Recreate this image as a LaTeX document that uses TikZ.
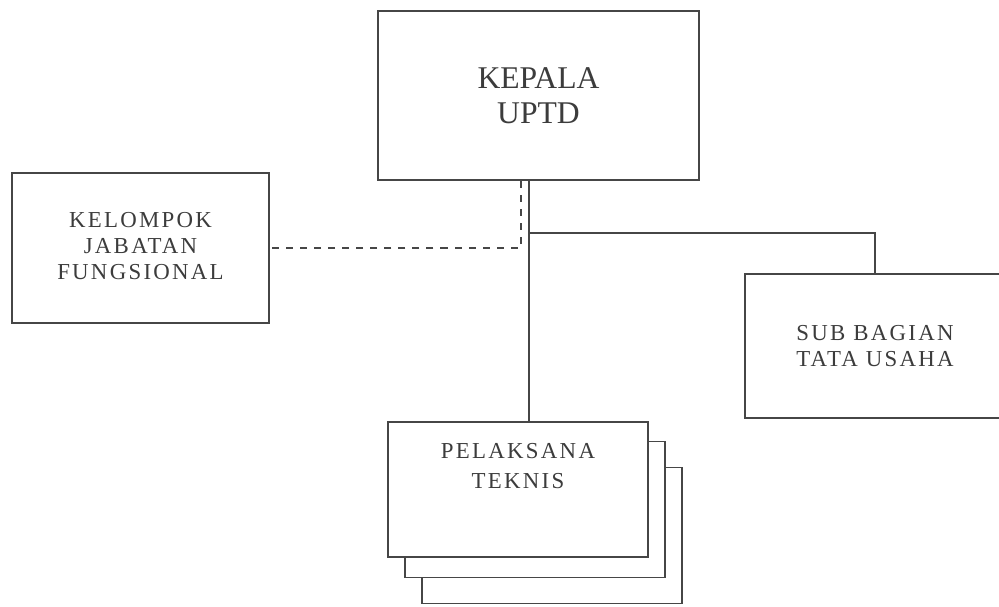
\documentclass[tikz,border=0pt]{standalone}
\usepackage{fontspec}
\setmainfont{Liberation Serif}
\newfontfamily\orgfont[LetterSpace=10]{Liberation Serif}
\usetikzlibrary{positioning, calc}
\definecolor{orgline}{RGB}{70,70,70}
\definecolor{orgtext}{RGB}{60,60,60}

\tikzset{
  unitbox/.style={draw=orgline, line width=1.1pt, fill=white, align=center, inner sep=0pt, text=orgtext},
  link/.style={draw=orgline, line width=1.1pt},
  dotlink/.style={link, dash pattern=on 4pt off 4pt}
}

\begin{document}
\begin{tikzpicture}[x=0.02cm, y=-0.02cm]
\useasboundingbox (0,0) rectangle (999,606);

% Boxes
\node[unitbox, minimum width=6.42cm, minimum height=3.38cm, font=\fontsize{18}{20}\selectfont] (kepala) at (538.5,95.5) {KEPALA\\UPTD};
\node[unitbox, minimum width=5.14cm, minimum height=3cm, font=\orgfont\fontsize{13}{16}\selectfont] (kelompok) at (140.5,248) {\raisebox{0.2cm}{\begin{tabular}{@{}c@{}}KELOMPOK\\[-1pt]JABATAN\\[-1pt]FUNGSIONAL\end{tabular}}};
\node[unitbox, minimum width=5.2cm, minimum height=2.88cm, font=\orgfont\fontsize{13}{15.3}\selectfont] (subbag) at (875,346) {SUB BAGIAN\\TATA USAHA};

% Pelaksana stack
\foreach \dx/\dy [count=\k] in {34/46, 17/20}
  \node[unitbox, minimum width=5.2cm, minimum height=2.72cm] (pel\k) at ($(518,489.5)+(\dx,\dy)$) {};
\node[unitbox, minimum width=5.2cm, minimum height=2.7cm] (pelaksana) at (518,489.5) {};
\node[inner sep=0pt, align=center, text=orgtext, font=\orgfont\fontsize{13}{17.6}\selectfont, below=0.43cm of pelaksana.north] (peltext) {PELAKSANA\\TEKNIS};

% Lines
\coordinate (spine) at (529,0);
\coordinate (fork) at (529,233);
\coordinate (dash) at (521,0);
\draw[link] (kepala.south -| spine) -- (pelaksana.north -| spine);
\draw[link] (fork) -| (subbag.north);
\draw[dotlink] (kepala.south -| dash) |- (kelompok.east);
\end{tikzpicture}
\end{document}
